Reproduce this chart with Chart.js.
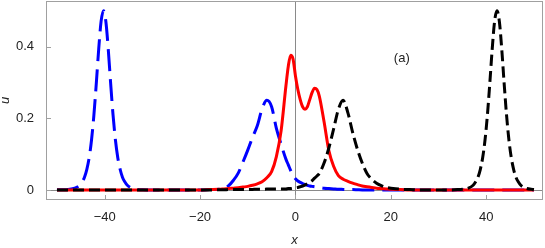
<!DOCTYPE html>
<html lang="en">
<head>
<meta charset="UTF-8" />
<title>u(x) profiles</title>
<script src="https://cdn.jsdelivr.net/npm/chart.js"></script>
<style>
  body { margin: 0; background: #fff; }
  #wrap { width: 545px; height: 248px; }
</style>
</head>
<body>
<div id="wrap"><canvas id="plot" width="545" height="248"></canvas></div>
<script>
// sample positions along x (denser round the narrow peaks)
const xs = [
  -50, -48, -46.25, -45.25, -44.75, -44.25, -43.75, -43.25, -42.75, -42.25,
  -41.75, -41.25, -40.75, -40.25, -39.75, -39.25, -38.75, -38.25, -37.75, -37.25,
  -36.75, -36.25, -35.75, -35.25, -34.25, -32, -30, -28, -26, -24,
  -22, -20, -18, -16, -15, -14, -13, -12, -11, -10,
  -9, -8, -7, -6, -5, -4, -3, -2, -1.5, -1,
  -0.5, 0, 0.5, 1, 1.5, 2, 2.5, 3, 3.5, 4,
  4.5, 5, 6, 7, 8, 9, 10, 11, 12, 13,
  14, 15, 16, 17, 18, 19, 20, 22, 24, 26,
  28, 30, 32, 34, 36.25, 37.25, 37.75, 38.25, 38.75, 39.25,
  39.75, 40.25, 40.75, 41.25, 41.75, 42.25, 42.75, 43.25, 43.75, 44.25,
  44.75, 45.25, 45.75, 46.25, 46.75, 47.25, 48.25, 50
];

// blue long-dashed curve
const blueU = [
  0.0003, 0.0009, 0.005, 0.013, 0.022, 0.035, 0.057, 0.090, 0.140, 0.210,
  0.298, 0.393, 0.470, 0.500, 0.470, 0.393, 0.298, 0.210, 0.140, 0.090,
  0.057, 0.035, 0.022, 0.013, 0.005, 0.0005, 0, 0, 0, 0,
  0, 0, 0.001, 0.002, 0.004, 0.012, 0.027, 0.047, 0.078, 0.111,
  0.147, 0.179, 0.226, 0.250, 0.232, 0.172, 0.127, 0.086, 0.070, 0.054,
  0.040, 0.031, 0.025, 0.021, 0.018, 0.015, 0.013, 0.011, 0.010, 0.009,
  0.008, 0.007, 0.005, 0.004, 0.003, 0.002, 0.0015, 0.001, 0.001, 0.0005,
  0, 0, 0, 0, 0, 0, 0, 0, 0, 0,
  0, 0, 0, 0, 0, 0, 0, 0, 0, 0,
  0, 0, 0, 0, 0, 0, 0, 0, 0, 0,
  0, 0, 0, 0, 0, 0, 0, 0
];

// red solid curve
const redU = [
  0, 0, 0, 0, 0, 0, 0, 0, 0, 0,
  0, 0, 0, 0, 0, 0, 0, 0, 0, 0,
  0, 0, 0, 0, 0, 0, 0, 0, 0, 0,
  0, 0, 0.001, 0.002, 0.003, 0.004, 0.005, 0.006, 0.008, 0.010,
  0.013, 0.017, 0.023, 0.034, 0.051, 0.093, 0.166, 0.290, 0.345, 0.376,
  0.365, 0.318, 0.280, 0.252, 0.232, 0.225, 0.232, 0.252, 0.272, 0.284,
  0.280, 0.262, 0.190, 0.110, 0.066, 0.040, 0.030, 0.024, 0.019, 0.015,
  0.011, 0.009, 0.007, 0.005, 0.004, 0.003, 0.002, 0.001, 0, 0,
  0, 0, 0, 0, 0, 0, 0, 0, 0, 0,
  0, 0, 0, 0, 0, 0, 0, 0, 0, 0,
  0, 0, 0, 0, 0, 0, 0, 0
];

// black short-dashed curve
const blackU = [
  0, 0, 0, 0, 0, 0, 0, 0, 0, 0,
  0, 0, 0, 0, 0, 0, 0, 0, 0, 0,
  0, 0, 0, 0, 0, 0, 0, 0, 0, 0,
  0, 0, 0, 0.0005, 0.0005, 0.001, 0.001, 0.001, 0.001, 0.001,
  0.0015, 0.002, 0.002, 0.0025, 0.003, 0.003, 0.003, 0.003, 0.004, 0.004,
  0.005, 0.006, 0.007, 0.009, 0.011, 0.014, 0.017, 0.021, 0.026, 0.033,
  0.039, 0.046, 0.075, 0.117, 0.170, 0.225, 0.250, 0.215, 0.160, 0.113,
  0.075, 0.046, 0.030, 0.019, 0.012, 0.007, 0.005, 0.002, 0.001, 0,
  0, 0, 0, 0.001, 0.005, 0.013, 0.022, 0.035, 0.057, 0.090,
  0.140, 0.210, 0.298, 0.393, 0.470, 0.500, 0.470, 0.393, 0.298, 0.210,
  0.140, 0.090, 0.057, 0.035, 0.022, 0.013, 0.005, 0.001
];

const xTicks = [-40, -20, 0, 20, 40];
const xTickLabels = ["\u221240", "\u221220", "0", "20", "40"];
const yTicks = [0, 0.2, 0.4];
const yTickLabels = ["0", "0.2", "0.4"];
const panelLabel = "(a)";
const panelPos = [22.3, 0.368];

const FONT = '"Liberation Sans", Arial, sans-serif';
const TEXT = '#222';
const FRAME = '#a0a0a0';

const pts = arr => xs.map((x, i) => ({ x: x, y: arr[i] }));

// Mathematica-like frame: box, inward ticks, axes through origin, panel tag
const framePlugin = {
  id: 'frame',
  beforeDatasetsDraw(chart) {
    const { ctx, chartArea: a, scales: { x, y } } = chart;
    const x0 = Math.round(x.getPixelForValue(0)) + 0.5;
    const y0 = Math.round(y.getPixelForValue(0)) + 0.5;
    ctx.save();
    ctx.strokeStyle = '#8a8a8a';
    ctx.lineWidth = 1;
    ctx.beginPath();
    ctx.moveTo(x0, a.top); ctx.lineTo(x0, a.bottom);
    ctx.moveTo(a.left, y0); ctx.lineTo(a.right, y0);
    ctx.stroke();
    ctx.restore();
  },
  afterDatasetsDraw(chart) {
    const { ctx, chartArea: a, scales: { x, y } } = chart;
    ctx.save();
    ctx.strokeStyle = FRAME;
    ctx.lineWidth = 1;
    ctx.strokeRect(a.left + 0.5, a.top + 0.5, a.right - a.left - 1, a.bottom - a.top - 1);
    ctx.beginPath();
    xTicks.forEach(v => {
      const px = Math.round(x.getPixelForValue(v)) + 0.5;
      ctx.moveTo(px, a.bottom); ctx.lineTo(px, a.bottom - 5);
    });
    yTicks.forEach(v => {
      const py = Math.round(y.getPixelForValue(v)) + 0.5;
      ctx.moveTo(a.left, py); ctx.lineTo(a.left + 5, py);
    });
    ctx.stroke();
    ctx.fillStyle = TEXT;
    ctx.font = '13px ' + FONT;
    ctx.textAlign = 'center';
    ctx.textBaseline = 'middle';
    ctx.fillText(panelLabel, x.getPixelForValue(panelPos[0]), y.getPixelForValue(panelPos[1]));
    ctx.restore();
  }
};

Chart.defaults.font.family = FONT;
Chart.defaults.font.size = 13;
Chart.defaults.color = TEXT;

new Chart(document.getElementById('plot'), {
  type: 'line',
  data: {
    datasets: [
      { data: pts(blackU), borderColor: '#000', borderWidth: 3, borderDash: [11, 5], order: 1 },
      { data: pts(redU), borderColor: '#ff0000', borderWidth: 3, order: 2 },
      { data: pts(blueU), borderColor: '#0000ff', borderWidth: 3, borderDash: [22, 8], order: 3 }
    ]
  },
  options: {
    responsive: false,
    animation: false,
    devicePixelRatio: 1,
    layout: { padding: { top: 1, right: 2, left: 0, bottom: 0 } },
    elements: {
      point: { radius: 0 },
      line: { cubicInterpolationMode: 'monotone', borderCapStyle: 'butt', borderJoinStyle: 'round', fill: false }
    },
    plugins: { legend: { display: false }, tooltip: { enabled: false } },
    scales: {
      x: {
        type: 'linear', min: -52.3, max: 51.9,
        grid: { display: false }, border: { display: false },
        afterBuildTicks: s => { s.ticks = xTicks.map(v => ({ value: v })); },
        afterFit: s => { s.height = 48; s.paddingLeft = 0; s.paddingRight = 0; },
        ticks: {
          padding: 2, maxRotation: 0, autoSkip: false,
          callback: v => xTickLabels[xTicks.indexOf(v)]
        },
        title: { display: true, text: 'x', font: { style: 'italic', size: 13 }, padding: { top: 0, bottom: 0 } }
      },
      y: {
        type: 'linear', min: -0.028, max: 0.527,
        grid: { display: false }, border: { display: false },
        afterBuildTicks: s => { s.ticks = yTicks.map(v => ({ value: v })); },
        afterFit: s => { s.width = 46; s.paddingTop = 0; s.paddingBottom = 0; },
        ticks: {
          padding: 4, autoSkip: false,
          callback: v => yTickLabels[yTicks.indexOf(v)]
        },
        title: { display: true, text: 'u', font: { style: 'italic', size: 13 }, padding: { top: -2, bottom: 0 } }
      }
    }
  },
  plugins: [framePlugin]
});
</script>
</body>
</html>
